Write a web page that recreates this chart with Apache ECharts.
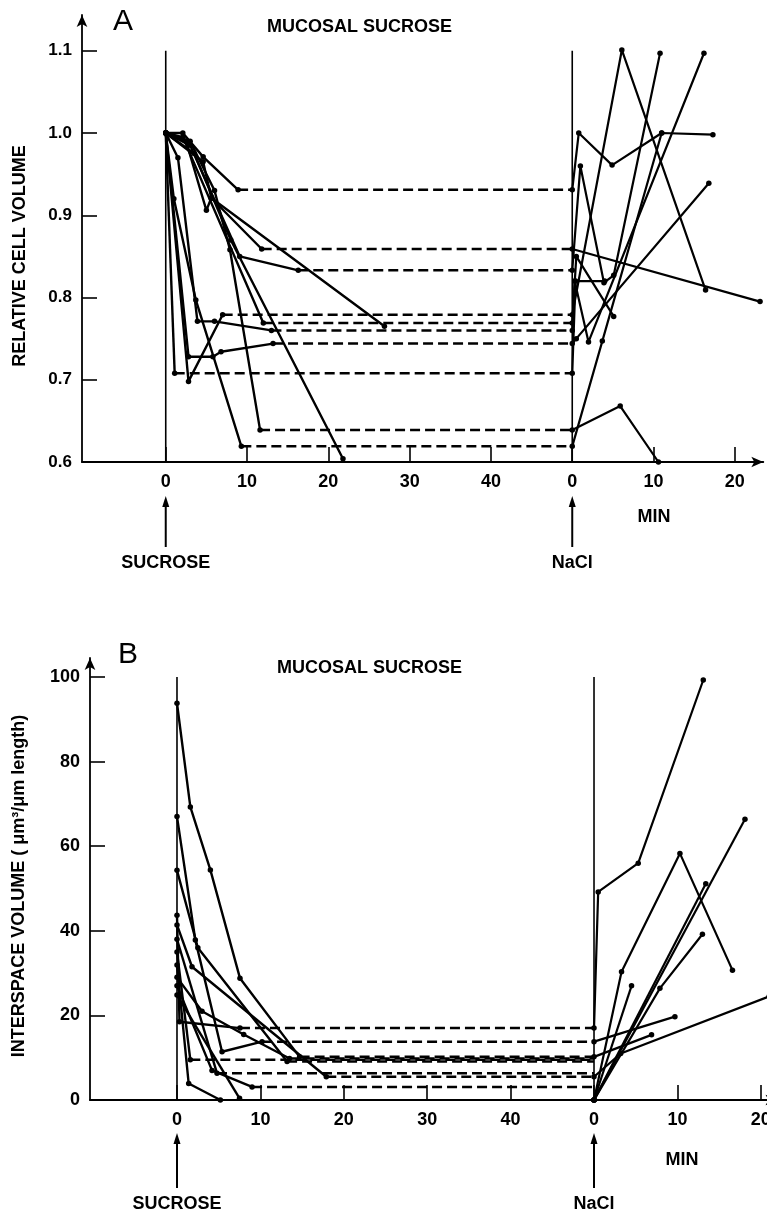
<!DOCTYPE html>
<html>
<head>
<meta charset="utf-8">
<script src="https://cdn.jsdelivr.net/npm/echarts@6/dist/echarts.min.js"></script>
<style>
  html, body { margin: 0; padding: 0; background: #fff; }
  #chart { width: 767px; height: 1217px; }
</style>
</head>
<body>
<div id="chart"></div>
<script>
// ---------------- DATA ----------------
// Time of NaCl re-addition on the shared time axis (minutes after sucrose)
const NACL_START = 50;

const SUCROSE_TICKS = [0, 10, 20, 30, 40];
const NACL_TICKS = [0, 10, 20];
const A_Y_TICKS = [0.6, 0.7, 0.8, 0.9, 1.0, 1.1];
const B_Y_TICKS = [0, 20, 40, 60, 80, 100];
const A_MARKER_RANGE = [0.6, 1.1];
const B_MARKER_RANGE = [0, 100];

// Panel A: relative cell volume, sucrose phase [min, value]
const A_sucrose = [
  [[0, 1.0], [2.1, 1.0], [4.6, 0.971], [8.9, 0.931]],
  [[0, 1.0], [2.5, 0.99], [5.0, 0.906], [5.6, 0.921], [11.8, 0.859]],
  [[0, 1.0], [3.0, 0.985], [9.1, 0.850], [16.3, 0.833]],
  [[0, 1.0], [4.6, 0.965], [5.6, 0.921], [26.9, 0.765]],
  [[0, 1.0], [2.1, 0.995], [12.0, 0.769]],
  [[0, 1.0], [1.5, 0.97], [3.9, 0.771], [6.0, 0.771], [13.0, 0.760]],
  [[0, 1.0], [2.8, 0.728], [5.8, 0.728], [6.8, 0.734], [13.2, 0.744]],
  [[0, 1.0], [2.8, 0.698], [7.0, 0.779]],
  [[0, 1.0], [1.1, 0.708]],
  [[0, 1.0], [3.0, 0.99], [6.0, 0.93], [7.9, 0.858], [11.6, 0.639]],
  [[0, 1.0], [1.0, 0.92], [3.7, 0.797], [9.3, 0.619]],
  [[0, 1.0], [3.5, 0.975], [8.0, 0.87], [21.8, 0.604]]
];
// Panel A: plateau (held) values, from end of sucrose phase to NaCl
const A_plateaus = [
  [8.9, 0.931], [11.8, 0.859], [16.3, 0.833], [12.0, 0.769], [13.0, 0.760],
  [13.2, 0.744], [7.0, 0.779], [1.1, 0.708], [11.6, 0.639], [9.3, 0.619]
];
// Panel A: NaCl phase [min after NaCl, value]
const A_nacl = [
  [[0, 0.931], [0.8, 1.0], [4.9, 0.961], [11.0, 1.0], [17.3, 0.998]],
  [[0, 0.859], [23.1, 0.795]],
  [[0, 0.833], [1.0, 0.960], [3.9, 0.818], [5.1, 0.827], [10.8, 1.097]],
  [[0, 0.779], [6.1, 1.101], [16.4, 0.809]],
  [[0, 0.769], [0.5, 0.85], [5.1, 0.777]],
  [[0, 0.760], [0.3, 0.82], [2.0, 0.746], [16.2, 1.097]],
  [[0, 0.744], [0.5, 0.75], [16.8, 0.939]],
  [[0, 0.708], [0.4, 0.82], [4.0, 0.82]],
  [[0, 0.639], [5.9, 0.668], [10.6, 0.6]],
  [[0, 0.619], [3.7, 0.747], [11.0, 1.0]]
];

// Panel B: interspace volume, sucrose phase
const B_sucrose = [
  [[0, 93.8], [1.6, 69.3], [4.0, 54.4], [7.55, 28.8], [14.7, 10.2]],
  [[0, 67], [2.2, 37.8], [5.4, 11.4], [10.2, 13.8]],
  [[0, 54.3], [2.5, 36], [13.2, 9.1]],
  [[0, 43.7], [0.3, 18.5], [7.55, 17.0]],
  [[0, 41.4], [1.8, 31.5], [17.9, 5.5]],
  [[0, 38], [4.8, 6.3]],
  [[0, 35], [1.6, 9.5]],
  [[0, 31.9], [1.4, 3.9], [5.2, 0]],
  [[0, 27], [4.2, 7], [9.0, 3.1]],
  [[0, 24.8], [7.5, 0.4]],
  [[0, 29], [3.0, 21], [8.0, 15.5], [13.5, 9.8]]
];
const B_plateaus = [
  [14.7, 10.2], [10.2, 13.8], [13.2, 9.1], [7.55, 17.0], [17.9, 5.5],
  [4.8, 6.3], [1.6, 9.5], [9.0, 3.1], [13.5, 9.8]
];
const B_nacl = [
  [[0, 17.0], [0.5, 49.2], [5.3, 56], [13.1, 99.3]],
  [[0, 0], [3.3, 30.3], [10.3, 58.3], [16.6, 30.7]],
  [[0, 0], [18.1, 66.4]],
  [[0, 0], [13.4, 51.1]],
  [[0, 0], [7.9, 26.4], [13.0, 39.2]],
  [[0, 0], [4.5, 27]],
  [[0, 13.8], [9.7, 19.7]],
  [[0, 5.5], [3.2, 11], [21, 24.5]],
  [[0, 10.2], [6.9, 15.4]]
];

// ---------------- CHART ----------------
const FONT = "'Liberation Sans', Arial, sans-serif";
const chart = echarts.init(document.getElementById('chart'), null, { renderer: 'canvas' });

const xLabelValues = SUCROSE_TICKS.concat(NACL_TICKS.map(t => t + NACL_START));
const xFmt = v => String(v >= NACL_START ? Math.round(v - NACL_START) : Math.round(v));

function xAxisDef(gi, min, max) {
  return {
    gridIndex: gi, type: 'value', min: min, max: max,
    axisLine: { show: true, onZero: false, symbol: ['none', 'arrow'], symbolSize: [8, 12],
      lineStyle: { color: '#000', width: 1.8 } },
    axisTick: { show: true, inside: true, length: 15, customValues: xLabelValues,
      lineStyle: { color: '#000', width: 1.6 } },
    axisLabel: { show: true, customValues: xLabelValues, formatter: xFmt, margin: 11,
      color: '#000', fontSize: 18, fontWeight: 'bold', fontFamily: FONT },
    splitLine: { show: false }
  };
}
function yAxisDef(gi, min, max, ticks, fmt, fs) {
  return {
    gridIndex: gi, type: 'value', min: min, max: max,
    axisLine: { show: true, onZero: false, symbol: ['none', 'arrow'], symbolSize: [8, 12],
      lineStyle: { color: '#000', width: 1.8 } },
    axisTick: { show: true, inside: true, length: 15, customValues: ticks,
      lineStyle: { color: '#000', width: 1.6 } },
    axisLabel: { show: true, customValues: ticks, formatter: fmt, margin: 10,
      color: '#000', fontSize: fs, fontWeight: 'bold', fontFamily: FONT },
    splitLine: { show: false }
  };
}

const series = [];
function solid(gi, data, width) {
  series.push({
    type: 'line', xAxisIndex: gi, yAxisIndex: gi, data: data,
    symbol: 'circle', symbolSize: 5.5, showSymbol: true,
    itemStyle: { color: '#000' },
    lineStyle: { color: '#000', width: width || 2.4 },
    silent: true, animation: false, z: 3
  });
}
function dashed(gi, p) {
  series.push({
    type: 'line', xAxisIndex: gi, yAxisIndex: gi,
    data: [[p[0], p[1]], [NACL_START, p[1]]],
    showSymbol: false, symbol: 'none',
    lineStyle: { color: '#000', width: 2.5, type: [10, 5] },
    silent: true, animation: false, z: 2
  });
}
function marker(gi, t, range) {
  series.push({
    type: 'line', xAxisIndex: gi, yAxisIndex: gi,
    data: [[t, range[0]], [t, range[1]]],
    showSymbol: false, symbol: 'none',
    lineStyle: { color: '#000', width: 1.6 },
    silent: true, animation: false, z: 2
  });
}

// Panel A
marker(0, 0, A_MARKER_RANGE);
marker(0, NACL_START, A_MARKER_RANGE);
A_sucrose.forEach(tr => solid(0, tr, 2.4));
A_plateaus.forEach(p => dashed(0, p));
A_nacl.forEach(tr => solid(0, tr.map(d => [d[0] + NACL_START, d[1]]), 2.2));

// Panel B
marker(1, 0, B_MARKER_RANGE);
marker(1, NACL_START, B_MARKER_RANGE);
B_sucrose.forEach(tr => solid(1, tr, 2.4));
B_plateaus.forEach(p => dashed(1, p));
B_nacl.forEach(tr => solid(1, tr.map(d => [d[0] + NACL_START, d[1]]), 2.2));

chart.setOption({
  backgroundColor: '#fff',
  animation: false,
  grid: [
    { left: 82, top: 15, width: 681.3, height: 447, containLabel: false, outerBoundsMode: 'none' },
    { left: 90, top: 658, width: 687.5, height: 442, containLabel: false, outerBoundsMode: 'none' }
  ],
  xAxis: [xAxisDef(0, -10.3, 73.5), xAxisDef(1, -10.43, 72)],
  yAxis: [
    yAxisDef(0, 0.6, 1.1435, A_Y_TICKS, v => Number(v).toFixed(1), 17),
    yAxisDef(1, 0, 104.5, B_Y_TICKS, v => String(Math.round(v)), 18)
  ],
  series: series
});

// ---------------- ANNOTATIONS ----------------
function px(gi, x, y) { return chart.convertToPixel({ gridIndex: gi }, [x, y]); }
const g = [];
function txt(x, y, s, font, opts) {
  g.push(Object.assign({
    type: 'text', x: x, y: y, silent: true,
    style: { text: s, font: font, fill: '#000', align: 'center', verticalAlign: 'middle' }
  }, opts || {}));
}
function upArrow(x, yTop, yBottom) {
  g.push({ type: 'line', silent: true, shape: { x1: x, y1: yBottom, x2: x, y2: yTop + 8 },
    style: { stroke: '#000', lineWidth: 2 } });
  g.push({ type: 'polygon', silent: true,
    shape: { points: [[x - 3.5, yTop + 11], [x + 3.5, yTop + 11], [x, yTop]] },
    style: { fill: '#000' } });
}
const boldF = s => 'bold ' + s + 'px ' + FONT;

// Panel A annotations
const a0 = px(0, 0, 0.6), aN = px(0, NACL_START, 0.6);
txt(123, 22, 'A', '30px ' + FONT);
txt(267, 27, 'MUCOSAL SUCROSE', boldF(18), { style: { text: 'MUCOSAL SUCROSE', font: boldF(18), fill: '#000', align: 'left', verticalAlign: 'middle' } });
txt(20, 256, 'RELATIVE CELL VOLUME', boldF(18), { rotation: Math.PI / 2 });
txt(654, 517, 'MIN', boldF(18));
upArrow(a0[0], 496, 547);
upArrow(aN[0], 496, 547);
txt(a0[0], 563, 'SUCROSE', boldF(18));
txt(aN[0], 563, 'NaCl', boldF(18));

// Panel B annotations
const b0 = px(1, 0, 0), bN = px(1, NACL_START, 0);
txt(128, 655, 'B', '30px ' + FONT);
txt(277, 668, 'MUCOSAL SUCROSE', boldF(18), { style: { text: 'MUCOSAL SUCROSE', font: boldF(18), fill: '#000', align: 'left', verticalAlign: 'middle' } });
txt(19, 886, 'INTERSPACE VOLUME ( \u03bcm\u00b3/\u03bcm length)', boldF(18), { rotation: Math.PI / 2 });
txt(682, 1160, 'MIN', boldF(18));
upArrow(b0[0], 1133, 1188);
upArrow(bN[0], 1133, 1188);
txt(b0[0], 1204, 'SUCROSE', boldF(18));
txt(bN[0], 1204, 'NaCl', boldF(18));

chart.setOption({ graphic: g });
</script>
</body>
</html>
